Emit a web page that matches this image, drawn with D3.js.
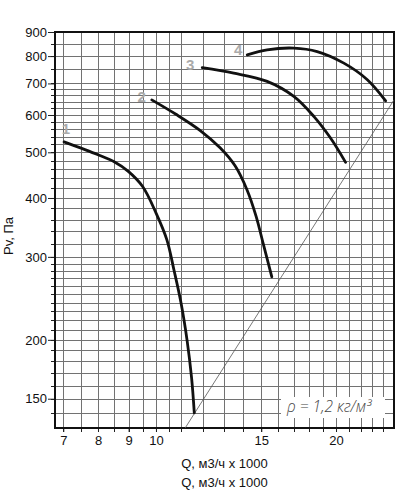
<!DOCTYPE html>
<html>
<head>
<meta charset="utf-8">
<script src="https://cdn.jsdelivr.net/npm/d3@7"></script>
<style>
    body { margin: 0; background: #fff; }
    text { font-family: "Liberation Sans", Arial, sans-serif; }
</style>
</head>
<body>
<div class="canvas"></div>
<script>
// curves: [Q (x1000 m3/h), Pv (Pa)]
const curve1 = [[7.02, 526], [8, 494], [8.5, 478], [9, 455], [9.5, 423], [10, 372], [10.43, 326], [10.72, 281], [11.01, 240], [11.27, 200], [11.47, 166], [11.59, 140]];
const curve2 = [[9.84, 646], [10.8, 602], [11.86, 556], [12.8, 511], [13.56, 468], [14.2, 416], [14.7, 366], [15.13, 318], [15.62, 272]];
const curve3 = [[11.95, 756], [13.49, 736], [15.34, 707], [17.0, 657], [18.36, 596], [19.58, 536], [20.75, 476]];
const curve4 = [[14.21, 805], [15.34, 825], [17.0, 832], [18.6, 818], [20.61, 773], [22.56, 713], [24.21, 643]];
const curves = [curve1, curve2, curve3, curve4];
const curveNames = ['1', '2', '3', '4'];
const labelShift = [[2, -13], [-10, -3], [-12, -3], [-9, -5]];

// network line (rho = 1.2)
const netLine = [[11.19, 130], [25, 646]];

const xTicks = [7, 8, 9, 10, 15, 20];
const yTicks = [150, 200, 300, 400, 500, 600, 700, 800, 900];
const xGrid = [7, 7.5, 8, 8.5, 9, 9.5, 10, 10.5, 11, 12, 13, 14, 15, 16, 17, 18, 19, 20, 21, 22, 23, 24];
const yGrid = [].concat(d3.range(140, 300, 10), d3.range(300, 700, 20), [700, 750, 800, 850]);

const dims = { width: 400, height: 491 };
const plot = { left: 55, right: 394, top: 32, bottom: 428 };

const svg = d3.select('.canvas')
    .append('svg')
    .attr('width', dims.width)
    .attr('height', dims.height)
;

const x = d3.scaleLog().domain([6.78, 25]).range([plot.left, plot.right]);
const y = d3.scaleLog().domain([130, 900]).range([plot.bottom, plot.top]);

// grid
const grid = svg.append('g').attr('stroke', '#727272').attr('stroke-width', 1);
grid.selectAll('line.v').data(xGrid).enter()
    .append('line')
    .attr('class', 'v')
    .attr('x1', d => Math.round(x(d)) + 0.5).attr('x2', d => Math.round(x(d)) + 0.5)
    .attr('y1', plot.top).attr('y2', plot.bottom)
;
grid.selectAll('line.h').data(yGrid).enter()
    .append('line')
    .attr('class', 'h')
    .attr('y1', d => Math.round(y(d)) + 0.5).attr('y2', d => Math.round(y(d)) + 0.5)
    .attr('x1', plot.left).attr('x2', plot.right)
;

// minor ticks
svg.append('g').attr('stroke', '#222')
    .selectAll('line').data(yGrid).enter()
    .append('line')
    .attr('y1', d => Math.round(y(d)) + 0.5).attr('y2', d => Math.round(y(d)) + 0.5)
    .attr('x1', plot.left - 4).attr('x2', plot.left)
;
svg.append('g').attr('stroke', '#222')
    .selectAll('line').data(xGrid).enter()
    .append('line')
    .attr('x1', d => Math.round(x(d)) + 0.5).attr('x2', d => Math.round(x(d)) + 0.5)
    .attr('y1', plot.bottom).attr('y2', plot.bottom + 4)
;

// axes
const yAxis = d3.axisLeft(y).tickValues(yTicks).tickFormat(d3.format('d')).tickSize(7).tickPadding(1);
const yg = svg.append('g').attr('transform', `translate(${plot.left},0)`).call(yAxis);
const xAxis = d3.axisBottom(x).tickValues(xTicks).tickFormat(d3.format('d')).tickSize(4).tickPadding(4);
const xg = svg.append('g').attr('transform', `translate(0,${plot.bottom})`).call(xAxis);
[yg, xg].forEach(g => {
    g.select('.domain').remove();
    g.selectAll('text').attr('font-size', 13).attr('fill', '#111')
        .style('font-family', '"Liberation Sans", Arial, sans-serif');
    g.selectAll('line').attr('stroke', '#222');
});

// frame
svg.append('rect')
    .attr('x', plot.left).attr('y', plot.top)
    .attr('width', plot.right - plot.left).attr('height', plot.bottom - plot.top)
    .attr('fill', 'none').attr('stroke', '#111').attr('stroke-width', 2)
;

// network line
const line = d3.line().x(d => x(d[0])).y(d => y(d[1]));
svg.append('path')
    .attr('d', line(netLine))
    .attr('fill', 'none').attr('stroke', '#555').attr('stroke-width', 0.8)
;

// fan curves
const smooth = d3.line().x(d => x(d[0])).y(d => y(d[1])).curve(d3.curveCatmullRom.alpha(0.5));
svg.append('g').selectAll('path').data(curves).enter()
    .append('path')
    .attr('d', smooth)
    .attr('fill', 'none').attr('stroke', '#111').attr('stroke-width', 2.8)
    .attr('stroke-linecap', 'round')
;
svg.append('g').selectAll('text').data(curves).enter()
    .append('text')
    .attr('x', (d, i) => x(d[0][0]) + labelShift[i][0])
    .attr('y', (d, i) => y(d[0][1]) + labelShift[i][1])
    .attr('text-anchor', 'middle').attr('dominant-baseline', 'central')
    .attr('font-size', 15).attr('font-weight', 'bold').attr('fill', '#ababab')
    .text((d, i) => curveNames[i])
;

// density note
svg.append('rect')
    .attr('x', 281).attr('y', 397).attr('width', 104).attr('height', 21)
    .attr('fill', '#fff')
;
svg.append('text')
    .attr('x', 287).attr('y', 412)
    .attr('font-size', 15.5).attr('font-style', 'italic').attr('font-weight', 300).attr('fill', '#444')
    .style('font-family', '"Open Sans", sans-serif')
    .text('ρ = 1,2 кг/м³')
;

// titles
svg.append('text')
    .attr('transform', `translate(13,236) rotate(-90)`)
    .attr('text-anchor', 'middle').attr('font-size', 13).attr('fill', '#111')
    .text('Pv, Па')
;
['Q, м3/ч x 1000', 'Q, м3/ч x 1000'].forEach((t, i) => {
    svg.append('text')
        .attr('x', (plot.left + plot.right) / 2).attr('y', 468 + i * 19)
        .attr('text-anchor', 'middle').attr('font-size', 13).attr('fill', '#111')
        .text(t)
    ;
});
</script>
</body>
</html>
